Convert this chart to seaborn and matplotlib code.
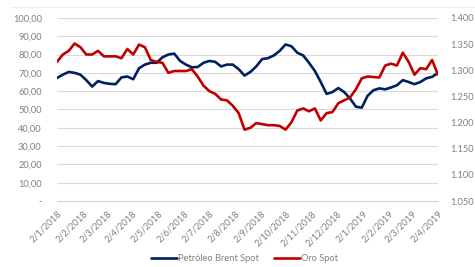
"""Brent vs gold spot price, Jan 2018 - Apr 2019."""

import matplotlib

matplotlib.use("Agg")

import matplotlib.pyplot as plt
import matplotlib.ticker as mticker
import pandas as pd
import seaborn as sns
from matplotlib.lines import Line2D

# Weekly readings
dates = [
    "2018-01-02", "2018-01-09", "2018-01-16", "2018-01-23", "2018-01-30",
    "2018-02-06", "2018-02-13", "2018-02-20", "2018-02-27", "2018-03-06",
    "2018-03-13", "2018-03-20", "2018-03-27", "2018-04-03", "2018-04-10",
    "2018-04-17", "2018-04-24", "2018-05-01", "2018-05-08", "2018-05-15",
    "2018-05-22", "2018-05-29", "2018-06-05", "2018-06-12", "2018-06-19",
    "2018-06-26", "2018-07-03", "2018-07-10", "2018-07-17", "2018-07-24",
    "2018-07-31", "2018-08-07", "2018-08-14", "2018-08-21", "2018-08-28",
    "2018-09-04", "2018-09-11", "2018-09-18", "2018-09-25", "2018-10-02",
    "2018-10-09", "2018-10-16", "2018-10-23", "2018-10-30", "2018-11-06",
    "2018-11-13", "2018-11-20", "2018-11-27", "2018-12-04", "2018-12-11",
    "2018-12-18", "2018-12-25", "2019-01-01", "2019-01-08", "2019-01-15",
    "2019-01-22", "2019-01-29", "2019-02-05", "2019-02-12", "2019-02-19",
    "2019-02-26", "2019-03-05", "2019-03-12", "2019-03-19", "2019-03-26",
    "2019-04-02",
]

brent = [
    67.2, 69.0, 70.5, 70.0, 69.0, 66.0, 62.5, 65.5, 64.5, 64.0,
    63.8, 67.5, 68.0, 66.5, 72.5, 74.5, 75.5, 75.5, 78.5, 80.0,
    80.5, 76.5, 74.5, 73.0, 73.2, 75.5, 76.5, 76.0, 73.5, 74.5,
    74.5, 72.0, 68.5, 70.5, 73.5, 77.5, 78.0, 79.5, 82.0, 85.5,
    84.5, 81.0, 79.5, 75.5, 71.0, 65.0, 58.5, 59.5, 61.7, 59.5,
    56.0, 51.5, 51.0, 57.5, 60.5, 61.5, 61.0, 62.0, 63.2, 66.0,
    65.0, 63.8, 65.0, 67.0, 67.8, 70.0,
]

gold = [
    1316.0, 1330.0, 1337.0, 1351.0, 1344.0, 1330.0, 1330.0, 1337.0, 1326.5, 1326.5,
    1326.5, 1323.0, 1340.5, 1330.0, 1349.0, 1344.0, 1319.5, 1316.0, 1314.0, 1295.0,
    1298.5, 1298.5, 1298.5, 1302.0, 1288.0, 1270.5, 1260.0, 1254.8, 1244.0, 1242.5,
    1232.0, 1218.0, 1186.5, 1190.0, 1199.0, 1197.0, 1195.0, 1195.0, 1193.5, 1186.5,
    1200.5, 1223.0, 1227.0, 1221.5, 1227.0, 1204.0, 1218.0, 1220.0, 1237.0, 1242.5,
    1248.0, 1263.5, 1284.5, 1288.0, 1287.0, 1286.0, 1309.0, 1312.5, 1309.0, 1333.5,
    1316.0, 1291.5, 1304.0, 1302.0, 1319.5, 1291.5,
]

month_ticks = [
    "2018-01-02", "2018-02-02", "2018-03-02", "2018-04-02", "2018-05-02",
    "2018-06-02", "2018-07-02", "2018-08-02", "2018-09-02", "2018-10-02",
    "2018-11-02", "2018-12-02", "2019-01-02", "2019-02-02", "2019-03-02",
    "2019-04-02",
]

brent_label = "Petróleo Brent Spot"
gold_label = "Oro Spot"

df = pd.DataFrame(
    {"fecha": pd.to_datetime(dates), "brent": brent, "oro": gold}
)

sns.set_style("white")
plt.rcParams["font.family"] = ["Lato", "DejaVu Sans"]

navy = "#002060"
red = "#C00000"
grey_txt = "#7F7F7F"
grid_col = "#D9D9D9"
fs = 6.7

fig = plt.figure(figsize=(4.75, 2.67), dpi=100)
ax = fig.add_axes([0.12, 0.247, 0.802, 0.686])
ax2 = ax.twinx()

sns.lineplot(data=df, x="fecha", y="brent", ax=ax, color=navy, lw=1.9,
             label=brent_label, legend=False)
sns.lineplot(data=df, x="fecha", y="oro", ax=ax2, color=red, lw=1.9,
             label=gold_label, legend=False)

# Left axis
ax.set_ylim(0, 100)
ax.yaxis.set_major_locator(mticker.MultipleLocator(10))
ax.yaxis.set_major_formatter(
    mticker.FuncFormatter(lambda v, _: "-" if v == 0 else f"{v:.2f}".replace(".", ","))
)
ax.grid(axis="y", color=grid_col, lw=0.8)
ax.set_axisbelow(True)

# Right axis
ax2.set_ylim(1050, 1400)
ax2.yaxis.set_major_locator(mticker.MultipleLocator(50))
ax2.yaxis.set_major_formatter(
    mticker.FuncFormatter(lambda v, _: f"{v:,.0f}".replace(",", "."))
)
ax2.grid(False)

# Dates
ticks = pd.to_datetime(month_ticks)
ax.set_xlim(ticks[0], ticks[-1])
ax.set_xticks(ticks)
ax.set_xticklabels([f"{d.day}/{d.month}/{d.year}" for d in ticks],
                   rotation=45, ha="right", rotation_mode="anchor")
ax.xaxis.set_minor_locator(mticker.NullLocator())

for a in (ax, ax2):
    for s in a.spines.values():
        s.set_visible(False)
    a.set_xlabel("")
    a.set_ylabel("")
    a.tick_params(axis="y", length=0, labelsize=fs, labelcolor=grey_txt, pad=11)
ax2.tick_params(axis="y", pad=9)
ax.spines["bottom"].set_visible(True)
ax.spines["bottom"].set_color(grid_col)
ax.tick_params(axis="x", length=4, color=grid_col, labelsize=fs,
               labelcolor=grey_txt, pad=2)

# faint chart frame line at the top
fig.add_artist(Line2D([0.02, 1.0], [0.973, 0.973], color="#EDEDED", lw=0.8))

handles = ax.get_lines()[:1] + ax2.get_lines()[:1]
fig.legend(handles, [brent_label, gold_label], loc="center",
           bbox_to_anchor=(0.515, 0.03), ncol=2, frameon=False,
           fontsize=fs, labelcolor=grey_txt, handlelength=2.8,
           handletextpad=0.1, columnspacing=1.6)

fig.savefig("out.png", dpi=100)
plt.close(fig)
